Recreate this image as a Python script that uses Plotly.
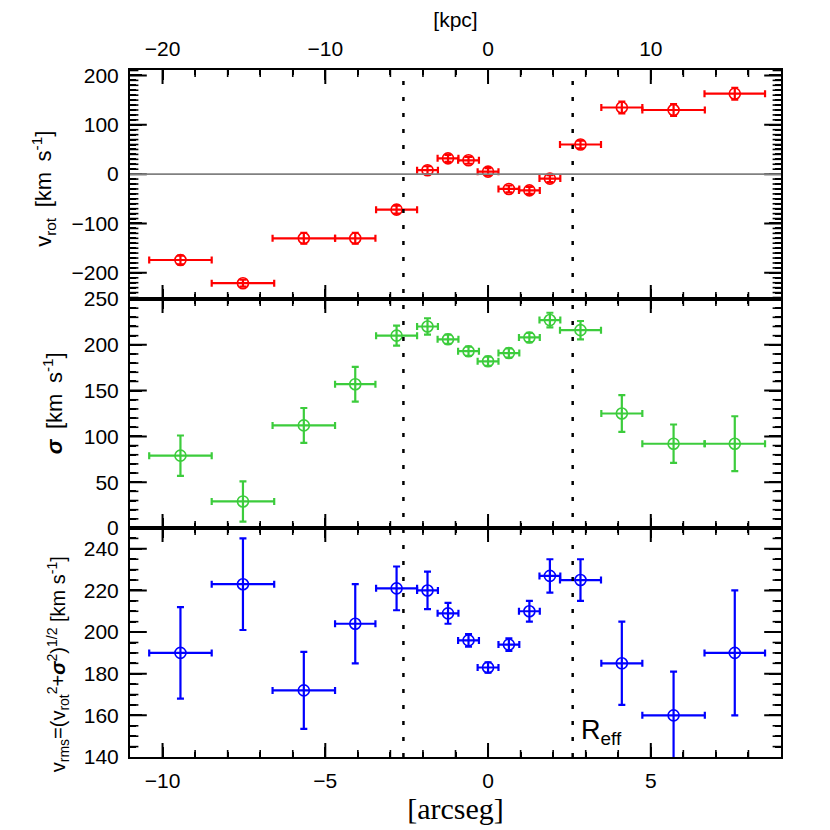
import plotly.graph_objects as go
from plotly.subplots import make_subplots

# positions along the slit [arcsec] and half-width of each bin
x_arcsec = [-9.45, -7.53, -5.66, -4.08, -2.81, -1.86, -1.23, -0.60, 0.00, 0.64, 1.27, 1.90, 2.84, 4.11, 5.70, 7.58]
x_halfwidth = [0.96, 0.96, 0.96, 0.62, 0.63, 0.32, 0.32, 0.32, 0.32, 0.32, 0.32, 0.32, 0.63, 0.63, 0.96, 0.93]

# rotation velocity
v_rot = [-174, -221, -130, -130, -72, 8, 32, 28, 5, -30, -33, -9, 60, 135, 130, 163]
v_rot_err = [9, 7, 11, 11, 8, 8, 7, 7, 7, 7, 7, 7, 8, 12, 12, 12]

# velocity dispersion
sigma = [79, 29, 112, 157, 210, 220, 206, 193, 182, 191, 208, 227, 216, 125, 92, 92]
sigma_err = [22, 22, 19, 19, 11, 9, 5, 5, 5, 5, 5, 8, 10, 20, 21, 30]

# v_rms
v_rms = [190, 223, 172, 204, 221, 220, 209, 196, 183, 194, 210, 227, 225, 185, 160, 190]
v_rms_err = [22, 22, 18.5, 19, 10.5, 9, 5, 3, 2.5, 3, 5, 8, 10, 20, 21, 30]

r_eff = 2.6            # arcsec
kpc_per_arcsec = 2.0
kpc_ticks = [-20, -10, 0, 10]
arcsec_ticks = [-10, -5, 0, 5]

FONT = "Liberation Sans, Arial, sans-serif"
TICKFONT = dict(family=FONT, size=21, color='black')

x_range = [-11, 9]
# per panel: y range, major step, minor step
y_setup = {1: ([-253, 211], 100, 10), 2: ([0, 250], 50, 10), 3: ([140, 250], 20, 5)}

fig = make_subplots(rows=3, cols=1, shared_xaxes=True, vertical_spacing=0)


def panel(y, yerr, color, row):
    fig.add_trace(go.Scatter(
        x=x_arcsec, y=y, mode='markers',
        marker=dict(symbol='circle-open', size=11, color=color, line=dict(width=1.6, color=color)),
        error_x=dict(type='data', array=x_halfwidth, color=color, thickness=2.2, width=3.5),
        error_y=dict(type='data', array=yerr, color=color, thickness=2.2, width=3.5),
        showlegend=False, hoverinfo='skip'), row=row, col=1)


panel(v_rot, v_rot_err, '#ff0000', 1)
panel(sigma, sigma_err, '#3ccc3c', 2)
panel(v_rms, v_rms_err, '#0000ff', 3)

# zero line in top panel
fig.add_hline(y=0, line=dict(color='#808080', width=1.8), row=1, col=1)

# R_eff dotted lines through all panels
for xr in (-r_eff, r_eff):
    fig.add_shape(type='line', xref='x', yref='paper', x0=xr, x1=xr, y0=0, y1=1,
                  line=dict(color='black', width=2.5, dash='4px,12px'))


# IDL style inward ticks on all four sides: line markers centred on the frame,
# the outer half is clipped away by the plot area
def tick_marks(xs, ys, symbol, length, width, row):
    fig.add_trace(go.Scatter(
        x=xs, y=ys, mode='markers', cliponaxis=True,
        marker=dict(symbol=symbol, size=2 * length, color='black', line=dict(width=width, color='black')),
        showlegend=False, hoverinfo='skip'), row=row, col=1)


x_major = [v for v in range(x_range[0] + 1, x_range[1]) if v % 5 == 0]
x_minor = [v for v in range(x_range[0] + 1, x_range[1]) if v % 5 != 0]
for row, ((lo, hi), major, step) in y_setup.items():
    tick_marks(x_major * 2, [lo] * len(x_major) + [hi] * len(x_major), 'line-ns', 10, 2, row)
    tick_marks(x_minor * 2, [lo] * len(x_minor) + [hi] * len(x_minor), 'line-ns', 5, 1.6, row)
    vals = [v for v in range((lo // step + 1) * step, hi, step)]
    y_major = [v for v in vals if v % major == 0]
    y_minor = [v for v in vals if v % major != 0]
    tick_marks([x_range[0]] * len(y_major) + [x_range[1]] * len(y_major), y_major * 2, 'line-ew', 12, 2, row)
    tick_marks([x_range[0]] * len(y_minor) + [x_range[1]] * len(y_minor), y_minor * 2, 'line-ew', 6, 1.6, row)

fig.update_xaxes(range=x_range, showline=True, linecolor='black', linewidth=2, mirror='ticks',
                 ticks='inside', ticklen=10, tickwidth=2, tickcolor='black',
                 minor=dict(dtick=1, ticks='inside', ticklen=5, tickwidth=1.6, tickcolor='black'),
                 showgrid=False, zeroline=False, automargin=False,
                 tickfont=TICKFONT, ticklabelstandoff=4)
fig.update_xaxes(side='top', showticklabels=True,
                 tickmode='array', tickvals=[k / kpc_per_arcsec for k in kpc_ticks],
                 ticktext=[str(k).replace('-', '\u2212') for k in kpc_ticks],
                 title=dict(text='[kpc]', font=dict(family=FONT, size=21, color='black'), standoff=4),
                 row=1, col=1)
fig.update_xaxes(showticklabels=False, row=2, col=1)
fig.update_xaxes(tickmode='array', tickvals=arcsec_ticks,
                 title=dict(text='[arcseg]', font=dict(family='Liberation Serif, Times New Roman, serif',
                                                       size=30, color='black'), standoff=6),
                 row=3, col=1)

fig.update_yaxes(showline=True, linecolor='black', linewidth=2, mirror='ticks',
                 ticks='inside', ticklen=12, tickwidth=2, tickcolor='black',
                 showgrid=False, zeroline=False, automargin=False,
                 tickfont=TICKFONT, ticklabelstandoff=5)
for row, ((lo, hi), major, step) in y_setup.items():
    fig.update_yaxes(range=[lo, hi], tick0=0, dtick=major,
                     minor=dict(dtick=step, ticks='inside', ticklen=6, tickwidth=1.6, tickcolor='black'),
                     row=row, col=1)

# y-axis titles
ylabels = [
    ('v<sub>rot</sub>\u2009 [km\u2009 s<sup>-1</sup>]', -86, 0.827, 22),
    ('<b><i>σ</i></b>\u2009 [km\u2009 s<sup>-1</sup>]', -77, 0.515, 22),
    ('v<sub>rms</sub>=(v<sub>rot</sub><sup>2</sup>+<b><i>σ</i></b><sup>2</sup>)<sup>1/2</sup> [km s<sup>-1</sup>]', -72, 0.135, 20),
]
for text, xs, yp, size in ylabels:
    fig.add_annotation(text=text, xref='paper', yref='paper', x=0, y=yp, xshift=xs,
                       xanchor='center', yanchor='middle', textangle=-90, showarrow=False,
                       font=dict(family=FONT, size=size, color='black'))

# R_eff label
fig.add_annotation(text='R<sub>eff</sub>', x=r_eff + 0.2, y=152, xref='x3', yref='y3',
                   xanchor='left', yanchor='middle', showarrow=False,
                   font=dict(family=FONT, size=27, color='black'))

fig.update_layout(width=830, height=830, margin=dict(l=122, r=57, t=62, b=81),
                  paper_bgcolor='white', plot_bgcolor='white',
                  font=dict(family=FONT, color='black'))

fig.write_html("out.html")
